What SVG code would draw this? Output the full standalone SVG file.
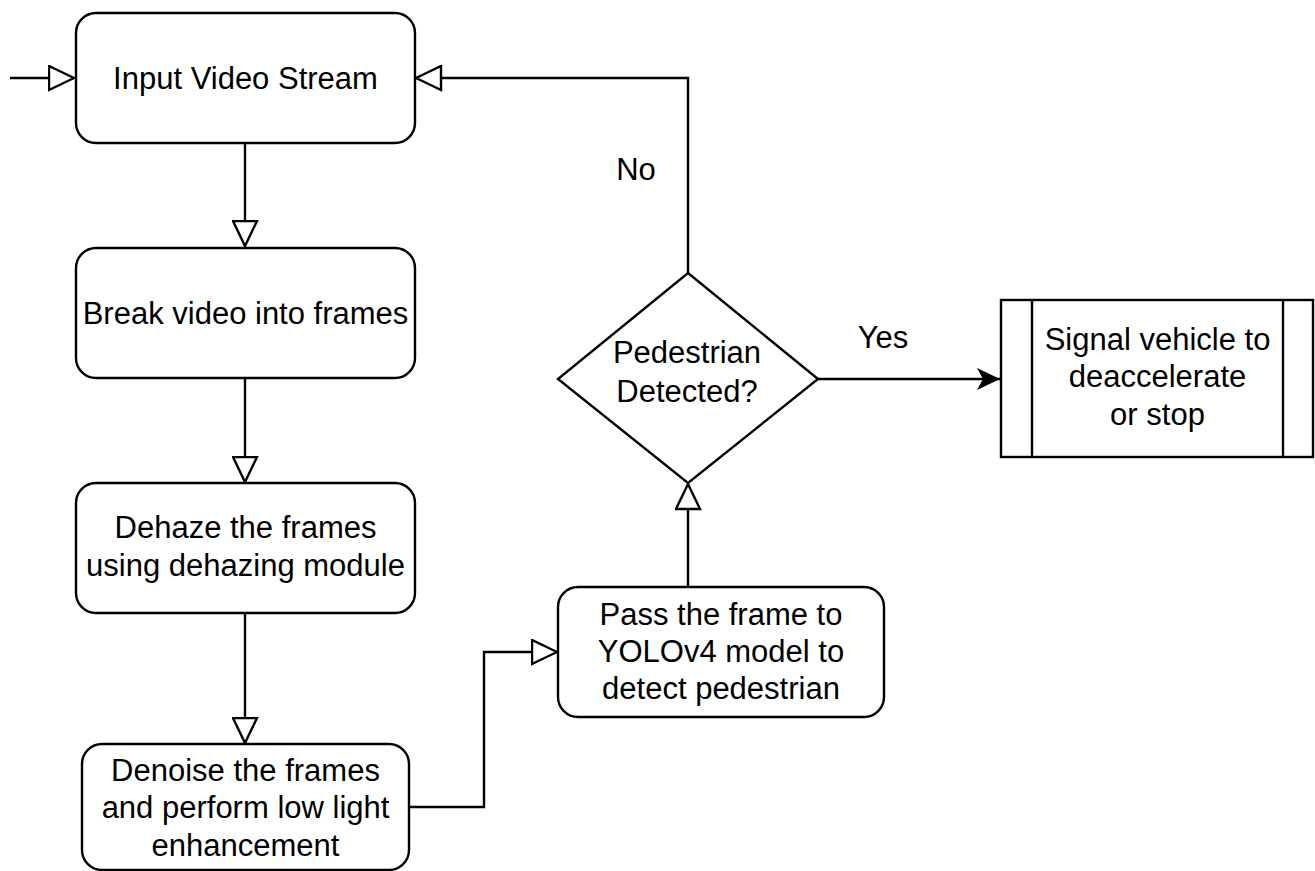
<svg xmlns="http://www.w3.org/2000/svg" width="1315" height="871" viewBox="0 0 1315 871">
  <defs>
    <style>
      .box { fill: #ffffff; stroke: #000000; stroke-width: 2.4; }
      .edge { fill: none; stroke: #000000; stroke-width: 2.4; }
      .label { font-family: "Liberation Sans", Arial, Helvetica, sans-serif; font-size: 31px; fill: #000000; text-anchor: middle; }
    </style>
    <!-- hollow triangle head used on most connectors -->
    <marker id="open" markerUnits="userSpaceOnUse" viewBox="0 0 28 27" markerWidth="28" markerHeight="27" refX="26.5" refY="13.5" orient="auto">
      <path d="M1.5,1.5 L26.5,13.5 L1.5,25.5 Z" fill="#ffffff" stroke="#000000" stroke-width="2.4" stroke-linejoin="miter"/>
    </marker>
    <!-- solid notched head -->
    <marker id="solid" markerUnits="userSpaceOnUse" viewBox="0 0 24 24" markerWidth="24" markerHeight="24" refX="23" refY="12" orient="auto">
      <path d="M0,1 L23,12 L0,23 L6,12 Z" fill="#000000"/>
    </marker>
  </defs>

  <rect width="1315" height="871" fill="#ffffff"/>

  <g id="connectors">
    <path class="edge" d="M10,78 L74,78" marker-end="url(#open)"/>
    <path class="edge" d="M245,144 L245,246" marker-end="url(#open)"/>
    <path class="edge" d="M245,379 L245,482" marker-end="url(#open)"/>
    <path class="edge" d="M245,614 L245,743" marker-end="url(#open)"/>
    <path class="edge" d="M409,807 L484,807 L484,652 L557,652" marker-end="url(#open)"/>
    <path class="edge" d="M688,587 L688,484" marker-end="url(#open)"/>
    <path class="edge" d="M688,273 L688,78 L416,78" marker-end="url(#open)"/>
    <path class="edge" d="M818,379 L1000,379" marker-end="url(#solid)"/>
    <text class="label" x="636" y="180">No</text>
    <text class="label" x="883" y="348">Yes</text>
  </g>

  <g id="input-video-stream">
    <rect class="box" x="76" y="13" width="339" height="130" rx="20" ry="20"/>
    <text class="label" x="245.5" y="89">Input Video Stream</text>
  </g>

  <g id="break-frames">
    <rect class="box" x="76" y="248" width="339" height="130" rx="20" ry="20"/>
    <text class="label" x="245.5" y="324">Break video into frames</text>
  </g>

  <g id="dehaze">
    <rect class="box" x="76" y="483" width="339" height="130" rx="20" ry="20"/>
    <text class="label" x="245.5" y="538">Dehaze the frames</text>
    <text class="label" x="245.5" y="576">using dehazing module</text>
  </g>

  <g id="denoise">
    <rect class="box" x="82" y="744" width="327" height="126" rx="20" ry="20"/>
    <text class="label" x="245.5" y="781">Denoise the frames</text>
    <text class="label" x="245.5" y="818">and perform low light</text>
    <text class="label" x="245.5" y="856">enhancement</text>
  </g>

  <g id="yolo">
    <rect class="box" x="558" y="587" width="326" height="130" rx="20" ry="20"/>
    <text class="label" x="721" y="625">Pass the frame to</text>
    <text class="label" x="721" y="662">YOLOv4 model to</text>
    <text class="label" x="721" y="699">detect pedestrian</text>
  </g>

  <g id="decision">
    <polygon class="box" points="688,273 818,379 688,483 558,379"/>
    <text class="label" x="687" y="363">Pedestrian</text>
    <text class="label" x="687" y="402">Detected?</text>
  </g>

  <g id="signal-vehicle">
    <rect class="box" x="1001" y="300" width="312" height="157"/>
    <line class="edge" x1="1032" y1="300" x2="1032" y2="457"/>
    <line class="edge" x1="1283" y1="300" x2="1283" y2="457"/>
    <text class="label" x="1157.5" y="350">Signal vehicle to</text>
    <text class="label" x="1157.5" y="387">deaccelerate</text>
    <text class="label" x="1157.5" y="425">or stop</text>
  </g>
</svg>
